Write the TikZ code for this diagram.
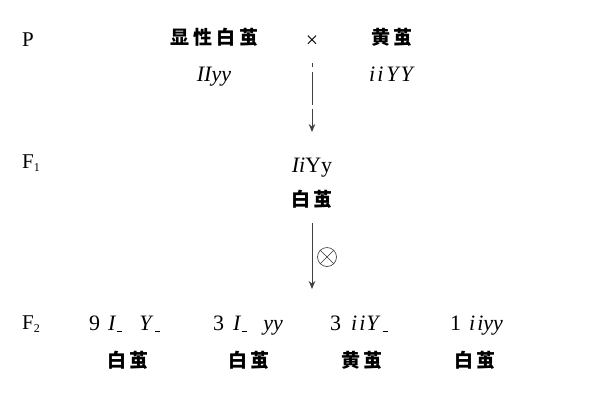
\documentclass[tikz,border=0pt]{standalone}
\usepackage{fontspec}
\setmainfont{Liberation Serif}
\newfontfamily\cjk{Noto Sans CJK SC}
\usetikzlibrary{arrows.meta}
\newcommand{\gblank}{\hspace{1pt}\rule[-1.5pt]{5pt}{0.7pt}}
\newcommand{\cjsp}{\hspace{3.7pt}}
\newcommand{\subnum}[1]{\raisebox{-3pt}{\fontsize{12}{12}\selectfont #1}}
\begin{document}
\begin{tikzpicture}[x=1pt,y=-1pt,
  lbl/.style={font=\fontsize{21}{24}\selectfont, inner sep=0pt, anchor=base west},
  lat/.style={font=\fontsize{22}{24}\selectfont, inner sep=0pt, anchor=base},
  latw/.style={font=\fontsize{22}{24}\selectfont, inner sep=0pt, anchor=base west},
  zh/.style={font=\fontsize{19}{22}\selectfont\cjk\bfseries, inner sep=0pt, anchor=base},
  arr/.style={draw=black!75, line width=1pt, -{Stealth[length=8pt,width=6.5pt]}},
]
\fill[white] (0,0) rectangle (600,400);
\useasboundingbox (0,0) rectangle (600,400);
% P generation
\node[lbl] (P) at (22,46) {P};
\node[zh] (pa) at (214.5,44.5) {显\cjsp 性\cjsp 白\cjsp 茧};
\node[font=\fontsize{22}{22}\selectfont, inner sep=0pt] (cross) at (312,42) {×};
\node[zh] (pb) at (392,44.5) {黄\cjsp 茧};
\node[lat] (pag) at (214,81) {\textit{IIyy}};
\node[lat] (pbg) at (392,81) {\textit{i\hspace{2pt}i\hspace{3pt}Y\hspace{2pt}Y}};
% F1
\node[lbl] (F1) at (22,168) {F\subnum{1}};
\node[lat] (f1g) at (312,172) {\textit{Ii}Yy};
\node[zh] (f1p) at (312,206) {白\cjsp 茧};
\draw[arr, dash pattern=on 4pt off 5pt on 33pt off 4pt on 40pt] ([yshift=-21pt]cross.center) -- ([yshift=40pt]f1g.base);
% selfing
\coordinate (a2e) at (312,289);
\draw[arr] ([yshift=-17pt]f1p.base) -- (a2e);
\node[circle, draw=black!80, line width=0.6pt, minimum size=19pt, inner sep=0pt,
  path picture={\draw[black!80, line width=0.6pt] (path picture bounding box.north west) -- (path picture bounding box.south east)
  (path picture bounding box.north east) -- (path picture bounding box.south west);}] (self) at (327,257) {};
% F2
\node[lbl] (F2) at (22,329) {F\subnum{2}};
\node[latw] (g1) at (89,330) {9\hspace{8pt}\textit{I}\gblank\hspace{17pt}\textit{Y}\gblank};
\node[latw] (g2) at (213,330) {3\hspace{9pt}\textit{I}\gblank\hspace{16pt}\textit{yy}};
\node[latw] (g3) at (330,330) {3\hspace{10pt}\textit{i\hspace{2pt}i\hspace{1pt}Y}\hspace{1pt}\gblank};
\node[latw] (g4) at (450,330) {1\hspace{8pt}\textit{i\hspace{2pt}iyy}};
\node[zh] (p1) at (128,367) {白\cjsp 茧};
\node[zh] (p2) at (249,367) {白\cjsp 茧};
\node[zh] (p3) at (362,367) {黄\cjsp 茧};
\node[zh] (p4) at (475,367) {白\cjsp 茧};
\end{tikzpicture}
\end{document}
